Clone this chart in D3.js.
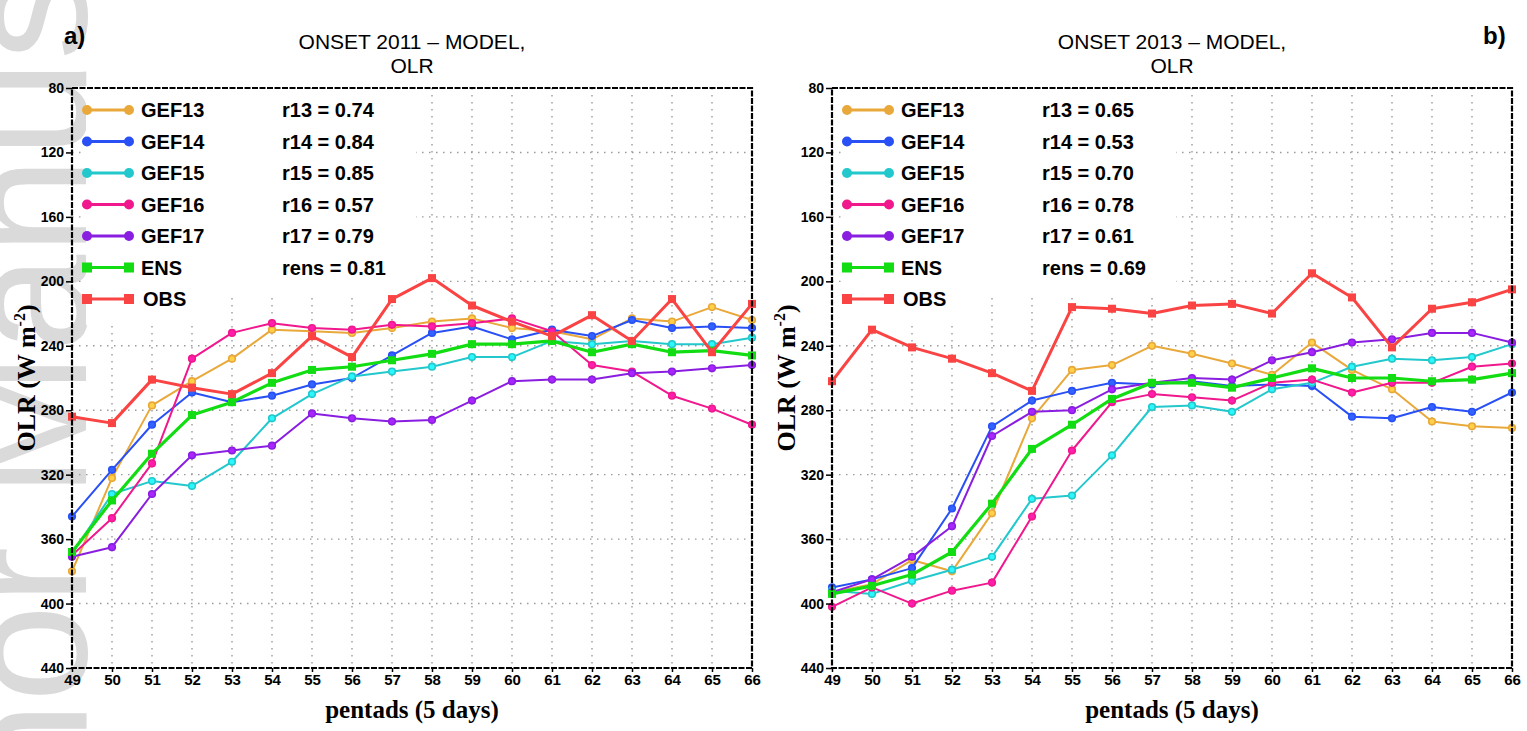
<!DOCTYPE html>
<html>
<head>
<meta charset="utf-8">
<script src="https://cdn.jsdelivr.net/npm/d3@7"></script>
<style>
	body { margin:0; background:#fff; }
	svg { display:block; }
	.tick text { font-family:"Liberation Sans", Arial, sans-serif; font-weight:bold; }
</style>
</head>
<body>
<div id="graph"></div>
<script>
// pentad numbers on the x axis
var pentads = [49,50,51,52,53,54,55,56,57,58,59,60,61,62,63,64,65,66];
var yTicks = [80,120,160,200,240,280,320,360,400,440];

var seriesNames = ["GEF13","GEF14","GEF15","GEF16","GEF17","ENS","OBS"];
var seriesColors = ["#e9a83a","#2850f5","#22c8cc","#f0188c","#8a1ee0","#12dc12","#fa4444"];

// onset 2011
var gef13_2011 = [380,322,277,262,248,230,231,232,229,225,223,229,231,236,223,225,216,224];
var gef14_2011 = [346,317,289,269,275,271,264,260,246,232,228,236,230,234,224,229,228,229];
var gef15_2011 = [369,332,324,327,312,285,270,259,256,253,247,247,237,239,237,239,239,235];
var gef16_2011 = [370,347,313,248,232,226,229,230,227,228,226,223,231,252,256,271,279,289];
var gef17_2011 = [371,365,332,308,305,302,282,285,287,286,274,262,261,261,257,256,254,252];
var ens_2011   = [368,336,307,283,275,263,255,253,249,245,239,239,237,244,239,244,243,246];
var obs_2011   = [284,288,261,266,270,257,234,247,211,198,215,225,234,221,237,211,244,214];
var r_2011 = ["r13 = 0.74","r14 = 0.84","r15 = 0.85","r16 = 0.57","r17 = 0.79","rens = 0.81"];

// onset 2013
var gef13_2013 = [393,388,373,380,344,285,255,252,240,245,251,258,238,255,267,287,290,291];
var gef14_2013 = [390,385,378,341,290,274,268,263,264,262,265,264,265,284,285,278,281,269];
var gef15_2013 = [392,394,386,379,371,335,333,308,278,277,281,267,263,253,248,249,247,239];
var gef16_2013 = [402,390,400,392,387,346,305,275,270,272,274,263,261,269,263,263,253,251];
var gef17_2013 = [393,385,371,352,296,281,280,267,263,260,261,249,244,238,236,232,232,238];
var ens_2013   = [394,389,382,368,338,304,289,273,263,263,266,260,254,260,260,262,261,257];
var obs_2013   = [262,230,241,248,257,268,216,217,220,215,214,220,195,210,241,217,213,205];
var r_2013 = ["r13 = 0.65","r14 = 0.53","r15 = 0.70","r16 = 0.78","r17 = 0.61","rens = 0.69"];

var width = 1527, height = 731;
var plotW = 680, top0 = 88, bottom0 = 668;

var graph = d3.select("div#graph")
	.append("svg")
	.attr("width", width)
	.attr("height", height);

// grey watermark along the left edge, behind everything
graph.append("text")
	.attr("transform", "translate(86, 1062) rotate(-90)")
	.style("font-family", "Liberation Sans, Arial, sans-serif")
	.style("font-size", "175px")
	.attr("fill", "#dadada")
	.text("Author Manuscript");

function drawPanel(left, title, letter, letterX, series, rTexts) {
	var xScale = d3.scaleLinear().domain([49,66]).range([left, left + plotW]);
	var yScale = d3.scaleLinear().domain([80,440]).range([top0, bottom0]);
	var g = graph.append("g");

	/* dotted grid */
	g.selectAll("line.vgrid").data(pentads.slice(1, -1)).enter()
		.append("line")
		.attr("x1", d => xScale(d)).attr("x2", d => xScale(d))
		.attr("y1", top0).attr("y2", bottom0)
		.attr("stroke", "#9a9a9a").attr("stroke-width", 1.4)
		.attr("stroke-dasharray", "1.5,5.5");
	g.selectAll("line.hgrid").data(yTicks.slice(1, -1)).enter()
		.append("line")
		.attr("x1", left).attr("x2", left + plotW)
		.attr("y1", d => yScale(d)).attr("y2", d => yScale(d))
		.attr("stroke", "#9a9a9a").attr("stroke-width", 1.4)
		.attr("stroke-dasharray", "1.5,5.5");

	// white boxes behind the legend text
	g.append("rect").attr("x", left + 14).attr("y", top0 + 1)
		.attr("width", 330).attr("height", 205).attr("fill", "#fff");
	g.append("rect").attr("x", left + 14).attr("y", top0 + 1)
		.attr("width", 137).attr("height", 236).attr("fill", "#fff");

	var line = d3.line()
		.x((d, i) => xScale(pentads[i]))
		.y(d => yScale(d));

	series.forEach(function(vals, k) {
		var isSq = k >= 5;
		var col = seriesColors[k];
		g.append("path").datum(vals)
			.attr("fill", "none")
			.attr("stroke", col)
			.attr("stroke-width", k == 5 ? 3.2 : (k == 6 ? 3 : 2))
			.attr("stroke-linejoin", "round")
			.attr("d", line);
		if (isSq) {
			g.selectAll(null).data(vals).enter()
				.append("rect")
				.attr("x", (d, i) => xScale(pentads[i]) - 4)
				.attr("y", d => yScale(d) - 4)
				.attr("width", 8).attr("height", 8)
				.attr("fill", col);
		} else {
			g.selectAll(null).data(vals).enter()
				.append("circle")
				.attr("cx", (d, i) => xScale(pentads[i]))
				.attr("cy", d => yScale(d))
				.attr("r", 3.3)
				.attr("fill", d3.color(col).brighter(0.6))
				.attr("stroke", col)
				.attr("stroke-width", 1.6);
		}
	});

	/* legend */
	var leg = g.append("g").attr("transform", `translate(${left}, 0)`);
	seriesNames.forEach(function(name, k) {
		var yy = 110 + 31.5 * k;
		var col = seriesColors[k];
		leg.append("line").attr("x1", 15).attr("x2", 57).attr("y1", yy).attr("y2", yy)
			.attr("stroke", col).attr("stroke-width", 3);
		[15, 57].forEach(function(px) {
			if (k >= 5)
				leg.append("rect").attr("x", px - 5).attr("y", yy - 5).attr("width", 10).attr("height", 10).attr("fill", col);
			else
				leg.append("circle").attr("cx", px).attr("cy", yy).attr("r", 5).attr("fill", col);
		});
		leg.append("text").attr("x", k == 6 ? 71 : 69).attr("y", yy + 7)
			.style("font-family", "Liberation Sans, Arial, sans-serif")
			.style("font-weight", "bold").style("font-size", "20px")
			.text(name);
		if (k < 6)
			leg.append("text").attr("x", 210).attr("y", yy + 7)
				.style("font-family", "Liberation Sans, Arial, sans-serif")
				.style("font-weight", "bold").style("font-size", "20px")
				.text(rTexts[k]);
	});

	// axes
	var yAxis = d3.axisLeft(yScale).tickValues(yTicks).tickSize(6).tickPadding(2);
	var xAxis = d3.axisBottom(xScale).tickValues(pentads).tickFormat(d3.format("d")).tickSize(4).tickPadding(2);
	var ya = g.append("g").attr("class", "y axis")
		.attr("transform", `translate(${left}, 0)`)
		.call(yAxis);
	ya.selectAll("text").style("font-size", "14px").attr("fill", "#000");
	var xa = g.append("g").attr("class", "x axis")
		.attr("transform", `translate(0, ${bottom0})`)
		.call(xAxis);
	xa.selectAll("text").style("font-size", "15px").attr("fill", "#000");
	g.selectAll(".domain").remove();
	g.selectAll(".tick line").attr("stroke", "#000").attr("stroke-width", 1.5);

	// dashed frame
	g.append("rect").attr("x", left).attr("y", top0)
		.attr("width", plotW).attr("height", bottom0 - top0)
		.attr("fill", "none").attr("stroke", "#000").attr("stroke-width", 2.2)
		.attr("stroke-dasharray", "6,1.5");

	// titles
	var cx = left + plotW / 2;
	g.append("text").attr("x", cx).attr("y", 49)
		.style("text-anchor", "middle")
		.style("font-family", "Liberation Sans, Arial, sans-serif").style("font-size", "21px")
		.text(title);
	g.append("text").attr("x", cx).attr("y", 73)
		.style("text-anchor", "middle")
		.style("font-family", "Liberation Sans, Arial, sans-serif").style("font-size", "21px")
		.text("OLR");
	g.append("text").attr("x", letterX).attr("y", 44)
		.style("font-family", "Liberation Sans, Arial, sans-serif")
		.style("font-weight", "bold").style("font-size", "24px")
		.text(letter);

	g.append("text").attr("x", cx).attr("y", 718)
		.style("text-anchor", "middle")
		.style("font-family", "Liberation Serif, Times New Roman, serif")
		.style("font-weight", "bold").style("font-size", "25px")
		.text("pentads (5 days)");

	var yl = g.append("text")
		.attr("transform", `translate(${left - 37}, ${(top0 + bottom0) / 2}) rotate(-90)`)
		.style("text-anchor", "middle")
		.style("font-family", "Liberation Serif, Times New Roman, serif")
		.style("font-weight", "bold").style("font-size", "26px");
	yl.append("tspan").text("OLR (W m");
	yl.append("tspan").attr("dy", -10).style("font-size", "16px").text("-2");
	yl.append("tspan").attr("dy", 10).text(")");
}

drawPanel(72, "ONSET 2011 \u2013 MODEL,", "a)", 64,
	[gef13_2011, gef14_2011, gef15_2011, gef16_2011, gef17_2011, ens_2011, obs_2011], r_2011);
drawPanel(832, "ONSET 2013 \u2013 MODEL,", "b)", 1483,
	[gef13_2013, gef14_2013, gef15_2013, gef16_2013, gef17_2013, ens_2013, obs_2013], r_2013);
</script>
</body>
</html>
